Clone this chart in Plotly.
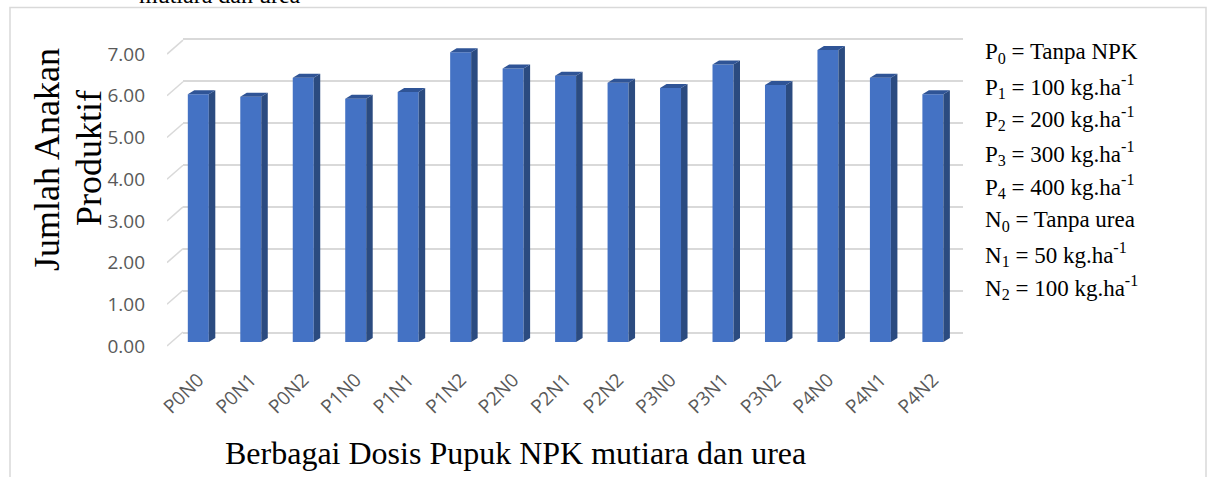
import plotly.graph_objects as go

# ---------------- data ----------------
categories = ["P0N0", "P0N1", "P0N2", "P1N0", "P1N1", "P1N2", "P2N0", "P2N1",
              "P2N2", "P3N0", "P3N1", "P3N2", "P4N0", "P4N1", "P4N2"]
values = [5.90, 5.84, 6.29, 5.79, 5.95, 6.90, 6.51, 6.34,
          6.17, 6.05, 6.61, 6.12, 6.95, 6.29, 5.90]
y_ticks = [0, 1, 2, 3, 4, 5, 6, 7]
legend_lines = [
    "P<sub>0</sub> = Tanpa NPK",
    "P<sub>1</sub> = 100 kg.ha<sup>-1</sup>",
    "P<sub>2</sub> = 200 kg.ha<sup>-1</sup>",
    "P<sub>3</sub> = 300 kg.ha<sup>-1</sup>",
    "P<sub>4</sub> = 400 kg.ha<sup>-1</sup>",
    "N<sub>0</sub> = Tanpa urea",
    "N<sub>1</sub> = 50 kg.ha<sup>-1</sup>",
    "N<sub>2</sub> = 100 kg.ha<sup>-1</sup>",
]
x_title = "Berbagai Dosis Pupuk NPK mutiara dan urea"
y_title_lines = ["Jumlah Anakan", "Produktif"]
cut_title = "mutiara dan urea"

# ---------------- geometry (pixels) ----------------
W, H = 1208, 477
L, R, T, B = 167, 973, 30, 350


def px_x(p):
    return (p - L) / (R - L)


def px_y(p):
    return (B - p) / (B - T)


n = len(categories)
xs = list(range(n))
bar_w = 0.40          # front face width (category units)
dx = 0.124            # 3D depth, horizontal (category units)
dy = 0.095            # 3D depth, vertical (value units)

FRONT = "#4472C4"
SIDE = "#2B4B80"
TOP = "#2F5496"
GRID = "#D9D9D9"
TICK = "#595959"
SERIF = "Liberation Serif, Times New Roman, serif"
SANS = "Open Sans, sans-serif"

fig = go.Figure()

# invisible helper so the back-wall grid subplot exists
fig.add_trace(go.Scatter(x=[0.5], y=[0], mode="markers", marker=dict(opacity=0),
                         hoverinfo="skip", showlegend=False, xaxis="x", yaxis="y"))

# front faces
fig.add_trace(go.Bar(x=xs, y=values, width=bar_w, marker=dict(color=FRONT, line=dict(width=0)),
                     xaxis="x2", yaxis="y2", showlegend=False, hoverinfo="skip"))

# side and top faces
sx, sy = [], []
tx, ty = [], []
for i, v in zip(xs, values):
    xr = i + bar_w / 2
    xl = i - bar_w / 2
    sx += [xr, xr + dx, xr + dx, xr, xr, None]
    sy += [0, dy, v + dy, v, 0, None]
    tx += [xl, xr, xr + dx, xl + dx, xl, None]
    ty += [v, v, v + dy, v + dy, v, None]
fig.add_trace(go.Scatter(x=sx, y=sy, fill="toself", fillcolor=SIDE, mode="lines",
                         line=dict(width=0, color=SIDE), xaxis="x2", yaxis="y2",
                         showlegend=False, hoverinfo="skip"))
fig.add_trace(go.Scatter(x=tx, y=ty, fill="toself", fillcolor=TOP, mode="lines",
                         line=dict(width=0, color=TOP), xaxis="x2", yaxis="y2",
                         showlegend=False, hoverinfo="skip"))

# diagonal side-wall grid segments (on label axis y3)
x_front = (L - 198.3) / 52.47
x_back = (183 - 198.3) / 52.47
depth_y = 14 / 41.7
gx, gy = [], []
for t in y_ticks:
    gx += [x_front, x_back, None]
    gy += [t, t + depth_y, None]
fig.add_trace(go.Scatter(x=gx, y=gy, mode="lines", line=dict(color=GRID, width=1.5),
                         xaxis="x2", yaxis="y3", showlegend=False, hoverinfo="skip",
                         cliponaxis=False))

x2_range = [(L - 198.3) / 52.47, (R - 198.3) / 52.47]

fig.update_layout(
    width=W, height=H,
    margin=dict(l=L, r=W - R, t=T, b=H - B, autoexpand=False),
    paper_bgcolor="white", plot_bgcolor="rgba(0,0,0,0)",
    showlegend=False,
    xaxis=dict(domain=[px_x(183), px_x(963)], range=[0, 1], visible=False, fixedrange=True),
    yaxis=dict(domain=[0, 1], anchor="x", range=[-(B - 332.7) / 42, (332.7 - T) / 42],
               tickvals=y_ticks, showgrid=True, gridcolor=GRID, gridwidth=1.5,
               showticklabels=False, zeroline=False, showline=False, ticks=""),
    xaxis2=dict(domain=[0, 1], anchor="y2", range=x2_range, tickvals=xs, ticktext=categories,
                tickangle=-45, tickfont=dict(family=SANS, size=19, color=TICK),
                showgrid=False, zeroline=False, showline=False, ticks="",
                ticklabelstandoff=14),
    yaxis2=dict(domain=[0, 1], anchor="x2", range=[-(B - 342) / 42, (342 - T) / 42],
                visible=False),
    yaxis3=dict(overlaying="y2", anchor="x2", side="left",
                range=[-(B - 346) / 41.7, (346 - T) / 41.7],
                tickvals=y_ticks, tickformat=".2f",
                tickfont=dict(family=SANS, size=19, color=TICK),
                showgrid=False, zeroline=False, showline=False, ticks="",
                ticklabelstandoff=21),
)

# frame around chart
fig.add_shape(type="rect", xref="paper", yref="paper",
              x0=px_x(10), x1=px_x(1206), y0=px_y(H + 20), y1=px_y(7.5),
              line=dict(color=GRID, width=1.5), fillcolor="rgba(0,0,0,0)", layer="below")

# axis titles
fig.add_annotation(text=x_title, xref="paper", yref="paper", x=px_x(515), y=px_y(453),
                   xanchor="center", yanchor="middle", showarrow=False,
                   font=dict(family=SERIF, size=32, color="black"))
fig.add_annotation(text=y_title_lines[0], xref="paper", yref="paper", x=px_x(47), y=px_y(160),
                   xanchor="center", yanchor="middle", textangle=-90, showarrow=False,
                   font=dict(family=SERIF, size=36, color="black"))
fig.add_annotation(text=y_title_lines[1], xref="paper", yref="paper", x=px_x(89), y=px_y(158),
                   xanchor="center", yanchor="middle", textangle=-90, showarrow=False,
                   font=dict(family=SERIF, size=36, color="black"))

# cut-off caption at very top
fig.add_annotation(text=cut_title, xref="paper", yref="paper", x=px_x(220), y=px_y(10.5),
                   xanchor="center", yanchor="bottom", showarrow=False,
                   font=dict(family=SERIF, size=24, color="black"))

# legend text block
baselines = [60, 93, 126, 160, 193, 228, 261, 294]
for txt, bl in zip(legend_lines, baselines):
    fig.add_annotation(text=txt, xref="paper", yref="paper", x=px_x(983), y=px_y(bl - 7),
                       xanchor="left", yanchor="middle", showarrow=False,
                       font=dict(family=SERIF, size=23, color="black"))

fig.write_html("out.html", config={"displayModeBar": False},
               post_script="document.body.style.margin='0';document.body.style.overflow='hidden';")
